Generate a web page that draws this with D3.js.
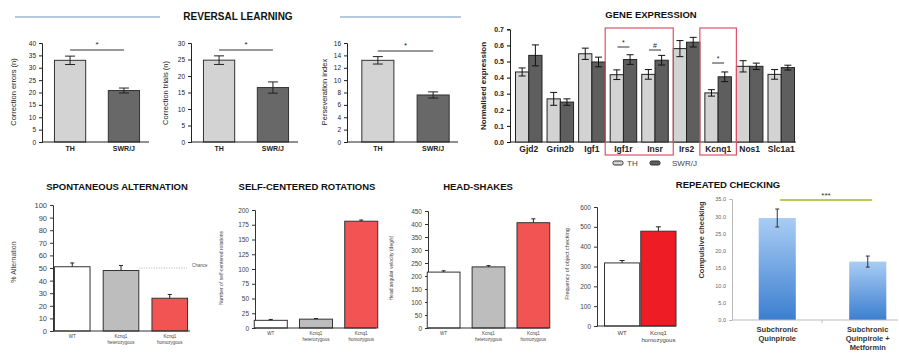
<!DOCTYPE html>
<html><head><meta charset="utf-8">
<script src="https://cdn.jsdelivr.net/npm/d3@7/dist/d3.min.js"></script>
<style>
body{margin:0;background:#fff;}
svg{display:block;font-family:"Liberation Sans",Arial,sans-serif;}
</style></head><body>
<svg id="c" width="899" height="353"></svg>
<script>
// ---------- DATA ----------
const rlGroups = ["TH","SWR/J"];
const rlErrors = [33.0, 20.8];
const rlErrorsSE = [1.7, 1.0];
const rlTrials = [24.8, 16.5];
const rlTrialsSE = [1.3, 1.7];
const rlPersev = [13.2, 7.6];
const rlPersevSE = [0.6, 0.5];
const rlErrTicks = [0,5,10,15,20,25,30,35,40];
const rlTrialTicks = [0,5,10,15,20,25,30];
const rlPersevTicks = [0,2,4,6,8,10,12,14,16];

const genes = ["Gjd2","Grin2b","Igf1","Igf1r","Insr","Irs2","Kcnq1","Nos1","Slc1a1"];
const geneTH = [0.435,0.268,0.548,0.418,0.420,0.580,0.305,0.470,0.420];
const geneTHse = [0.025,0.04,0.035,0.03,0.03,0.05,0.02,0.035,0.03];
const geneSWR = [0.538,0.248,0.497,0.512,0.508,0.620,0.405,0.470,0.462];
const geneSWRse = [0.065,0.02,0.03,0.03,0.03,0.03,0.03,0.02,0.015];
const geneTicks = [0,0.1,0.2,0.3,0.4,0.5,0.6,0.7];

const kcnqGroups = [["WT"],["Kcnq1","heterozygous"],["Kcnq1","homozygous"]];
const altValues = [51, 48, 26];
const altSE = [3, 4, 3];
const altTicks = [0,10,20,30,40,50,60,70,80,90,100];
const chanceLevel = 50;
const rotValues = [13, 15, 181];
const rotSE = [1.5, 1, 2];
const rotTicks = [0,25,50,75,100,125,150,175,200];
const headValues = [215, 235, 405];
const headSE = [5, 5, 15];
const headTicks = [0,50,100,150,200,250,300,350,400,450];
const objGroups = [["WT"],["Kcnq1","homozygous"]];
const objValues = [318, 478];
const objSE = [12, 22];
const objTicks = [0,100,200,300,400,500,600];
const repGroups = [["Subchronic","Quinpirole"],["Subchronic","Quinpirole +","Metformin"]];
const repValues = [29.5, 16.9];
const repSE = [2.6, 1.6];
const repTicks = [0,5,10,15,20,25,30,35];

// ---------- DRAW ----------
const svg = d3.select("#c");
const defs = svg.append("defs");
const grad = defs.append("linearGradient").attr("id","blueGrad").attr("x1",0).attr("y1",0).attr("x2",0).attr("y2",1);
grad.append("stop").attr("offset","0%").attr("stop-color","#a9cdf4");
grad.append("stop").attr("offset","100%").attr("stop-color","#3b7ed0");

function title(x,y,t,size){
  svg.append("text").attr("x",x).attr("y",y).attr("text-anchor","middle")
    .attr("font-weight","bold").attr("font-size",size||10).attr("fill","#111").text(t);
}
function ylabel(x,y,t,opt){
  opt=opt||{};
  svg.append("text").attr("transform",`translate(${x},${y}) rotate(-90)`)
    .attr("text-anchor","middle").attr("font-size",opt.size||7.5)
    .attr("font-weight",opt.bold?"bold":"normal")
    .attr("fill",opt.color||"#222").text(t);
}

function panel(cfg){
  const g = svg.append("g");
  const y = d3.scaleLinear().domain(cfg.ydom).range([cfg.y0,cfg.y1]);
  const x = d3.scaleBand().domain(d3.range(cfg.values.length)).range(cfg.xr).paddingInner(cfg.pi).paddingOuter(cfg.po);
  // y axis
  const ax = d3.axisLeft(y).tickValues(cfg.ticks).tickSize(cfg.tickSize||3).tickFormat(cfg.fmt||d3.format("d"));
  const ag = g.append("g").attr("transform",`translate(${cfg.ax},0)`).call(ax);
  ag.select(".domain").attr("stroke",cfg.axisColor||"#222").attr("stroke-width",cfg.axisW||1);
  ag.selectAll(".tick line").attr("stroke",cfg.axisColor||"#222");
  if(cfg.noTickLines) ag.selectAll(".tick line").remove();
  ag.selectAll(".tick text").attr("font-size",cfg.tickFont||7).attr("fill",cfg.tickColor||"#222")
    .attr("font-family","Liberation Sans, Arial, sans-serif").attr("font-weight",cfg.tickBold?"bold":"normal");
  // bars
  g.selectAll("rect.bar").data(cfg.values).join("rect").attr("class","bar")
    .attr("x",(d,i)=>x(i)).attr("width",x.bandwidth())
    .attr("y",d=>y(d)).attr("height",d=>y(cfg.ydom[0])-y(d))
    .attr("fill",(d,i)=>cfg.colors[i]).attr("stroke",cfg.stroke||"#333").attr("stroke-width",cfg.strokeW===undefined?1:cfg.strokeW);
  // error bars
  const cap = cfg.cap||4;
  cfg.values.forEach((v,i)=>{
    const cx = x(i)+x.bandwidth()/2;
    const top = y(v+cfg.se[i]), bot = y(cfg.upOnly? v : v-cfg.se[i]);
    g.append("line").attr("x1",cx).attr("x2",cx).attr("y1",top).attr("y2",bot).attr("stroke",cfg.errColor||"#222").attr("stroke-width",1);
    g.append("line").attr("x1",cx-cap).attr("x2",cx+cap).attr("y1",top).attr("y2",top).attr("stroke",cfg.errColor||"#222").attr("stroke-width",1);
    if(!cfg.upOnly) g.append("line").attr("x1",cx-cap).attr("x2",cx+cap).attr("y1",bot).attr("y2",bot).attr("stroke",cfg.errColor||"#222").attr("stroke-width",1);
  });
  // x axis
  g.append("line").attr("x1",cfg.ax).attr("x2",cfg.xEnd).attr("y1",cfg.y0).attr("y2",cfg.y0)
    .attr("stroke",cfg.xAxisColor||cfg.axisColor||"#222").attr("stroke-width",cfg.axisW||1);
  // labels
  cfg.labels.forEach((lab,i)=>{
    const cx = x(i)+x.bandwidth()/2;
    const arr = Array.isArray(lab)?lab:[lab];
    const t = g.append("text").attr("x",cx).attr("y",cfg.y0+cfg.labDy).attr("text-anchor","middle")
      .attr("font-size",cfg.labFont).attr("font-weight",cfg.labBold?"bold":"normal").attr("fill",cfg.labColor||"#222");
    arr.forEach((s,k)=>t.append("tspan").attr("x",cx).attr("dy",k?cfg.labLine:0).text(s));
  });
  return {x,y,g};
}

// ----- Reversal learning -----
svg.append("line").attr("x1",15).attr("x2",160).attr("y1",17).attr("y2",17).attr("stroke","#9db8d4").attr("stroke-width",1.5);
svg.append("line").attr("x1",340).attr("x2",461).attr("y1",17).attr("y2",17).attr("stroke","#9db8d4").attr("stroke-width",1.5);
title(238,20,"REVERSAL LEARNING",10);

const rlColors = ["#d3d3d3","#686868"];
const rlCommon = {y0:142,y1:43,pi:0.42,po:0.25,colors:rlColors,labels:rlGroups,labDy:9,labFont:7,labBold:true,cap:5,tickFont:6.5};
const p1 = panel(Object.assign({},rlCommon,{values:rlErrors,se:rlErrorsSE,ydom:[0,40],ticks:rlErrTicks,ax:42,xr:[41,153],xEnd:149}));
const p2 = panel(Object.assign({},rlCommon,{values:rlTrials,se:rlTrialsSE,ydom:[0,30],ticks:rlTrialTicks,ax:191,xr:[190,302],xEnd:298}));
const p3 = panel(Object.assign({},rlCommon,{values:rlPersev,se:rlPersevSE,ydom:[0,16],ticks:rlPersevTicks,ax:347,xr:[348,463],xEnd:458}));
ylabel(16,92,"Correction errors (n)");
ylabel(168,93,"Correction trials (n)");
ylabel(327,92,"Perseveration index");
function sig(p,i0,i1,yv,mark,dy){
  const a = p.x(i0)+p.x.bandwidth()/2, b = p.x(i1)+p.x.bandwidth()/2;
  svg.append("line").attr("x1",a).attr("x2",b).attr("y1",yv).attr("y2",yv).attr("stroke","#333").attr("stroke-width",1);
  svg.append("text").attr("x",(a+b)/2).attr("y",yv-(dy||3)).attr("text-anchor","middle").attr("font-size",8).attr("fill","#222").text(mark);
}
sig(p1,0,1,50,"*");
sig(p2,0,1,50,"*");
sig(p3,0,1,51,"*");

// ----- Gene expression -----
title(651,18,"GENE EXPRESSION",9.5);
const gy = d3.scaleLinear().domain([0,0.7]).range([142,29.3]);
const gx = d3.scaleBand().domain(genes).range([515.5,794.5]).paddingInner(0.16).paddingOuter(0);
const gAx = svg.append("g").attr("transform","translate(510,0)").call(d3.axisLeft(gy).tickValues(geneTicks).tickSize(3).tickFormat(d3.format(".1f")));
gAx.selectAll(".tick text").attr("font-size",7).attr("font-weight","bold").attr("fill","#222");
gAx.select(".domain").attr("stroke","#222");
svg.append("line").attr("x1",510).attr("x2",796).attr("y1",142).attr("y2",142).attr("stroke","#222");
const half = gx.bandwidth()/2;
genes.forEach((gname,i)=>{
  const x0 = gx(gname);
  [[geneTH[i],geneTHse[i],"#d3d3d3",x0],[geneSWR[i],geneSWRse[i],"#5e5e5e",x0+half]].forEach(([v,se,c,bx])=>{
    svg.append("rect").attr("x",bx).attr("width",half).attr("y",gy(v)).attr("height",gy(0)-gy(v)).attr("fill",c).attr("stroke","#222").attr("stroke-width",1);
    const cx = bx+half/2;
    svg.append("line").attr("x1",cx).attr("x2",cx).attr("y1",gy(v+se)).attr("y2",gy(v-se)).attr("stroke","#111");
    svg.append("line").attr("x1",cx-3.5).attr("x2",cx+3.5).attr("y1",gy(v+se)).attr("y2",gy(v+se)).attr("stroke","#111");
    svg.append("line").attr("x1",cx-3.5).attr("x2",cx+3.5).attr("y1",gy(v-se)).attr("y2",gy(v-se)).attr("stroke","#111");
  });
  svg.append("text").attr("x",x0+gx.bandwidth()/2).attr("y",152).attr("text-anchor","middle").attr("font-size",8.5).attr("font-weight","bold").attr("fill","#222").text(gname);
});
ylabel(486,86,"Normalised expression",{size:8,bold:true});
// highlight boxes
function hbox(g0,g1){
  const a = gx(g0)-5, b = gx(g1)+gx.bandwidth()+5;
  svg.append("rect").attr("x",a).attr("y",28).attr("width",b-a).attr("height",127).attr("fill","none").attr("stroke","#e0506a").attr("stroke-width",1.2);
}
hbox("Igf1r","Insr");
hbox("Kcnq1","Kcnq1");
function gsig(gname,yv,mark){
  const c = gx(gname)+gx.bandwidth()/2;
  svg.append("line").attr("x1",c-6).attr("x2",c+6).attr("y1",yv).attr("y2",yv).attr("stroke","#333");
  svg.append("text").attr("x",c).attr("y",yv-2).attr("text-anchor","middle").attr("font-size",7).attr("fill","#222").text(mark);
}
gsig("Igf1r",47,"*");
gsig("Insr",50,"#");
gsig("Kcnq1",63,"*");
// legend
svg.append("rect").attr("x",613).attr("y",161).attr("width",10).attr("height",4).attr("rx",1.5).attr("fill","#d3d3d3").attr("stroke","#333");
svg.append("text").attr("x",627).attr("y",165.5).attr("font-size",8).attr("fill","#444").text("TH");
svg.append("rect").attr("x",650).attr("y",161).attr("width",10).attr("height",4).attr("rx",1.5).attr("fill","#5e5e5e").attr("stroke","#333");
svg.append("text").attr("x",672).attr("y",165.5).attr("font-size",8).attr("fill","#444").text("SWR/J");

// ----- Bottom: Kcnq1 panels -----
const kColors = ["#ffffff","#bdbdbd","#f25353"];
const kCommon = {pi:0.27,po:0.05,colors:kColors,labels:kcnqGroups,labDy:7,labFont:4.5,labLine:5.5,labColor:"#444",cap:2,upOnly:true,tickFont:7,tickColor:"#444",axisColor:"#333",strokeW:1};
title(117,190,"SPONTANEOUS ALTERNATION",9.5);
const pa = panel(Object.assign({},kCommon,{values:altValues,se:altSE,ydom:[0,100],ticks:altTicks,ax:53,y0:331,y1:205,xr:[52,190],xEnd:190,tickFont:7.5}));
ylabel(16,262,"% Alternation",{size:7,color:"#444"});
svg.append("line").attr("x1",pa.x(1)+pa.x.bandwidth()).attr("x2",187).attr("y1",pa.y(chanceLevel)).attr("y2",pa.y(chanceLevel))
  .attr("stroke","#999").attr("stroke-dasharray","1,1.5").attr("stroke-width",0.8);
svg.append("text").attr("x",192).attr("y",pa.y(chanceLevel)-1).attr("font-size",4.5).attr("fill","#555").text("Chance");

title(307,190,"SELF-CENTERED ROTATIONS",9.5);
panel(Object.assign({},kCommon,{values:rotValues,se:rotSE,ydom:[0,200],ticks:rotTicks,ax:255,y0:328,y1:210,xr:[252,380],xEnd:376,tickFont:6.5}));
ylabel(223,268,"Number of self-centered rotations",{size:5,color:"#444"});

title(478,190,"HEAD-SHAKES",9.5);
panel(Object.assign({},kCommon,{values:headValues,se:headSE,ydom:[0,450],ticks:headTicks,ax:428,y0:328,y1:211,xr:[425,552],xEnd:549,tickFont:6.5}));
ylabel(393,268,"Head angular velocity (deg/s)",{size:5,color:"#444"});

panel(Object.assign({},kCommon,{values:objValues,se:objSE,ydom:[0,600],ticks:objTicks,ax:597,y0:326,y1:207,xr:[604.5,676],xEnd:676,pi:0.03,po:0,colors:["#ffffff","#ee1c24"],labels:objGroups,labDy:9,labFont:6,labLine:7,tickFont:6.5,cap:2.5}));
ylabel(569,264,"Frequency of object checking",{size:5.5,color:"#444"});

// ----- Repeated checking -----
title(728,188,"REPEATED CHECKING",9.5);
const pr = panel({values:repValues,se:repSE,ydom:[0,35],ticks:repTicks,ax:732,y0:320,y1:199,xr:[732,913],xEnd:898,pi:0.59,po:0.295,
  colors:["url(#blueGrad)","url(#blueGrad)"],stroke:"none",strokeW:0,labels:repGroups,labDy:12,labFont:7.5,labLine:9,labBold:true,labColor:"#333",
  cap:2,tickFont:5.5,tickColor:"#666",axisColor:"#bbb",noTickLines:true,fmt:d3.format(".1f"),errColor:"#333"});
svg.append("line").attr("x1",822).attr("x2",822).attr("y1",320).attr("y2",323).attr("stroke","#bbb");
ylabel(704,240,"Compulsive checking",{size:7.5,bold:true,color:"#333"});
svg.append("line").attr("x1",780).attr("x2",872).attr("y1",200).attr("y2",200).attr("stroke","#b8cc55").attr("stroke-width",2);
svg.append("text").attr("x",826).attr("y",198).attr("text-anchor","middle").attr("font-size",8).attr("fill","#333").text("***");
</script>
</body></html>
